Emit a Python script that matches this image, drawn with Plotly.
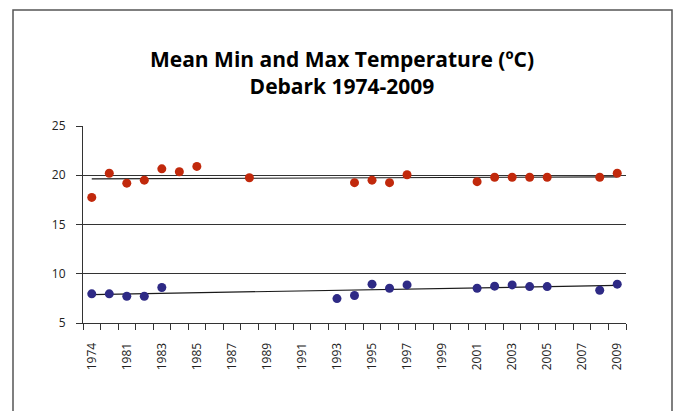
import numpy as np
import plotly.graph_objects as go

years = ["1974", "1980", "1981", "1982", "1983", "1984", "1985", "1986", "1987", "1988",
         "1989", "1990", "1991", "1992", "1993", "1994", "1995", "1996", "1997", "1998",
         "1999", "2000", "2001", "2002", "2003", "2004", "2005", "2006", "2007", "2008", "2009"]

max_temp = [17.75, 20.2, 19.2, 19.5, 20.65, 20.35, 20.9, None, None, 19.75,
            None, None, None, None, None, 19.25, 19.5, 19.25, 20.05, None,
            None, None, 19.35, 19.8, 19.8, 19.8, 19.8, None, None, 19.8, 20.2]

min_temp = [7.96, 7.96, 7.72, 7.72, 8.6, None, None, None, None, None,
            None, None, None, None, 7.48, 7.79, 8.94, 8.53, 8.87, None,
            None, None, 8.53, 8.74, 8.87, 8.7, 8.7, None, None, 8.33, 8.94]

label_years = ["1974", "1981", "1983", "1985", "1987", "1989", "1991", "1993", "1995",
               "1997", "1999", "2001", "2003", "2005", "2007", "2009"]

idx = np.arange(len(years))


def trend(vals):
    xs = np.array([i for i, v in zip(idx, vals) if v is not None], dtype=float)
    ys = np.array([v for v in vals if v is not None], dtype=float)
    a, b = np.polyfit(xs, ys, 1)
    return a * idx + b


fig = go.Figure()
for vals, color in [(max_temp, "#C1290C"), (min_temp, "#2E2A85")]:
    fig.add_trace(go.Scatter(x=idx, y=trend(vals), mode="lines",
                             line=dict(color="#1a1a1a", width=1.2), hoverinfo="skip"))
    fig.add_trace(go.Scatter(x=idx, y=vals, mode="markers",
                             marker=dict(color=color, size=9)))

W, H = 673, 403
fig.update_layout(
    width=W, height=H,
    margin=dict(l=75, r=55, t=118, b=88),
    paper_bgcolor="white", plot_bgcolor="white",
    showlegend=False,
    font=dict(family="Open Sans", size=12, color="#222"),
    title=dict(text="<b>Mean Min and Max Temperature (ºC)<br>Debark 1974-2009</b>",
               x=334 / W, xref="container", y=1 - 59 / H, yref="container",
               xanchor="center", yanchor="middle",
               font=dict(family="Open Sans", size=21, color="#000")),
)

fig.update_yaxes(range=[5, 25], tick0=5, dtick=5, showgrid=True, gridcolor="#333", gridwidth=1,
                 showline=True, linecolor="#333", linewidth=1,
                 ticks="outside", ticklen=6, tickcolor="#333",
                 ticklabelstandoff=8, zeroline=False, fixedrange=True)

fig.update_xaxes(range=[-0.5, len(years) - 0.5],
                 tickmode="array", tickvals=[years.index(y) for y in label_years],
                 ticktext=label_years, tickangle=-90, ticks="",
                 ticklabelstandoff=14,
                 showgrid=False, showline=True, linecolor="#333", linewidth=1, zeroline=False,
                 minor=dict(tickmode="linear", tick0=-0.5, dtick=1, ticks="outside",
                            ticklen=6, tickcolor="#333", showgrid=False),
                 fixedrange=True)

# outer chart border
fig.add_shape(type="rect", xref="paper", yref="paper",
              x0=(13 - 83) / 543, x1=(672 - 83) / 543, y0=-2, y1=(323 - 10) / 197,
              line=dict(color="#555", width=1.5), fillcolor="rgba(0,0,0,0)", layer="below")

fig.write_html("out.html")
